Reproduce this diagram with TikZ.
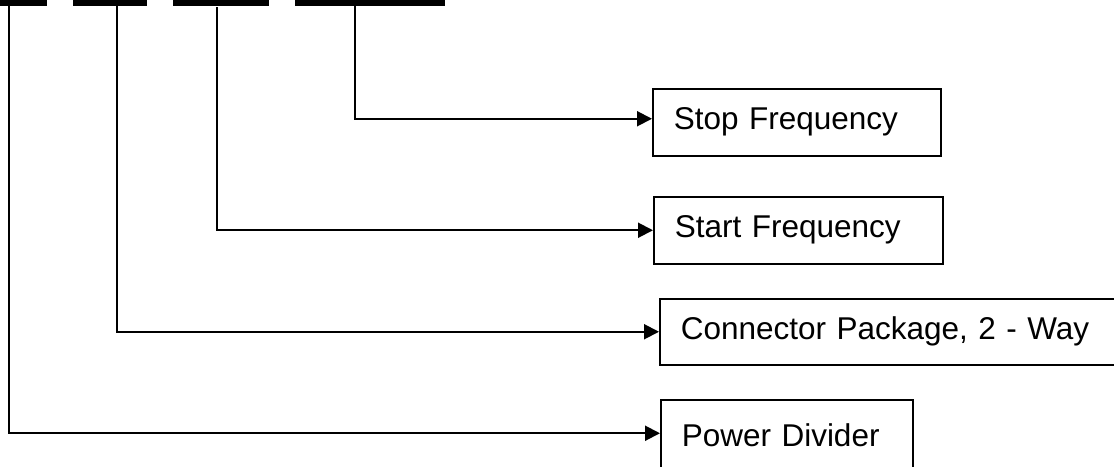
\documentclass[tikz,border=0pt]{standalone}
\usepackage{fontspec}
\setmainfont{Liberation Sans}
\usetikzlibrary{arrows.meta,positioning}

\begin{document}
\begin{tikzpicture}[x=1pt,y=-1pt,>={Triangle[length=15pt,width=15pt]},
  box/.style={draw,line width=1.5pt,anchor=north west,minimum height=67pt,inner xsep=21pt,align=left,font=\fontsize{31.5}{38}\selectfont},
  link/.style={line width=2pt,->},
  bar/.style={line width=5.5pt}]
\useasboundingbox (0,0) rectangle (1114,466);
\clip (0,0) rectangle (1114,466);
% code bars
\draw[bar] (0,2.75) -- (47,2.75);
\draw[bar] (73,2.75) -- (147,2.75);
\draw[bar] (173,2.75) -- (269,2.75);
\draw[bar] (295,2.75) -- (445,2.75);
\coordinate (t1) at (9,5);
\coordinate (t2) at (117,5);
\coordinate (t3) at (217,7);
\coordinate (t4) at (355,5);
% boxes
\node[box,text width=246pt] (stop) at (652,88) {Stop Frequency};
\node[box,text width=247pt] (start) at (653,196) {Start Frequency};
\node[box,text width=430pt,minimum height=66pt] (conn) at (659,298) {Connector Package, 2 - Way};
\node[box,text width=210pt,minimum height=70pt] (pdiv) at (660,399) {Power Divider};
% connectors
\draw[link] (t4) |- ([yshift=3.5pt]stop.west);
\draw[link] (t3) |- (start.west);
\draw[link] (t2) |- (conn.west);
\draw[link] (t1) |- ([yshift=1.5pt]pdiv.west);
\end{tikzpicture}
\end{document}
